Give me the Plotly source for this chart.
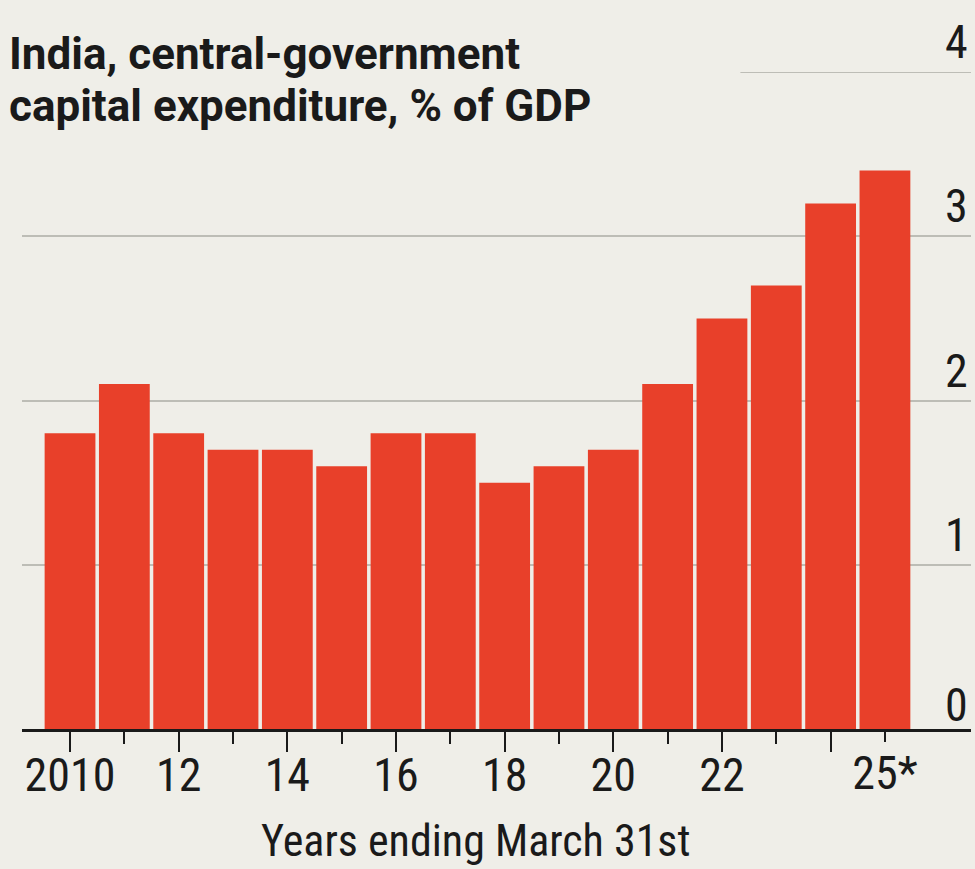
import plotly.graph_objects as go

# India, central-government capital expenditure, % of GDP (years ending March 31st)
years = list(range(2010, 2026))
capex_pct_gdp = [1.8, 2.1, 1.8, 1.7, 1.7, 1.6, 1.8, 1.8, 1.5, 1.6, 1.7, 2.1, 2.5, 2.7, 3.2, 3.4]

major_ticks = [2010, 2012, 2014, 2016, 2018, 2020, 2022, 2024]
major_text = ["2010", "12", "14", "16", "18", "20", "22", ""]
minor_ticks = [2011, 2013, 2015, 2017, 2019, 2021, 2023]
last_tick = [2025]
last_text = ["25*"]

y_labels = [0, 1, 2, 3, 4]
title_lines = ["India, central-government", "capital expenditure, % of GDP"]
x_title = "Years ending March 31st"

BG = "#efeee8"
RED = "#e8402a"
GRID = "#bdbdb6"
INK = "#1a1a1a"
NARROW = "Roboto Condensed, Liberation Sans Narrow, sans-serif"
BOLD = "Roboto, Liberation Sans, sans-serif"

fig = go.Figure()
fig.add_trace(go.Bar(x=years, y=capex_pct_gdp, marker=dict(color=RED, line=dict(width=0)),
                     hoverinfo="x+y"))
# invisible trace so the second x axis is drawn
fig.add_trace(go.Scatter(x=[2025], y=[0], xaxis="x2", mode="markers",
                         marker=dict(opacity=0), hoverinfo="skip", showlegend=False))

XR = [2009.116, 2026.584]

fig.update_layout(
    width=975, height=869,
    margin=dict(l=22, r=4, t=72, b=140),
    paper_bgcolor=BG, plot_bgcolor=BG,
    showlegend=False, bargap=0.065,
    xaxis=dict(range=XR, tickmode="array", tickvals=major_ticks, ticktext=major_text,
               ticks="outside", ticklen=20, tickwidth=2, tickcolor=INK,
               showline=True, linecolor=INK, linewidth=2.5, showgrid=False, zeroline=False,
               tickfont=dict(family=NARROW, size=46, color=INK), ticklabelstandoff=-16,
               minor=dict(tickmode="array", tickvals=minor_ticks, ticks="outside",
                          ticklen=12, tickwidth=2, tickcolor=INK, showgrid=False)),
    xaxis2=dict(range=XR, overlaying="x", anchor="y", side="bottom", tickmode="array",
                tickvals=last_tick, ticktext=last_text, ticks="outside", ticklen=12,
                tickwidth=2, tickcolor=INK, showline=False, showgrid=False, zeroline=False,
                tickfont=dict(family=NARROW, size=46, color=INK), ticklabelstandoff=-8),
    yaxis=dict(range=[0, 4], tickmode="array", tickvals=[1, 2, 3], showticklabels=False,
               showgrid=True, gridcolor=GRID, gridwidth=2, zeroline=False, ticks=""),
)

# short top gridline at 4, clear of the subtitle
fig.add_shape(type="line", xref="paper", yref="y", x0=0.757, x1=1, y0=4, y1=4,
              line=dict(color=GRID, width=2), layer="below")

for v in y_labels:
    fig.add_annotation(x=1, xref="paper", y=v, yref="y", text=str(v), showarrow=False,
                       xanchor="right", yanchor="middle", xshift=-1,
                       yshift=24 if v == 0 else 30,
                       font=dict(family=NARROW, size=46, color=INK))

fig.add_annotation(x=-0.0162, xref="paper", y=1.0274, yref="paper", text=title_lines[0],
                   showarrow=False, xanchor="left", yanchor="middle",
                   font=dict(family=BOLD, size=44, color=INK, weight=700))
fig.add_annotation(x=-0.0162, xref="paper", y=0.9483, yref="paper", text=title_lines[1],
                   showarrow=False, xanchor="left", yanchor="middle",
                   font=dict(family=BOLD, size=44, color=INK, weight=700))

fig.add_annotation(x=0.478, xref="paper", y=-0.1705, yref="paper", text=x_title,
                   showarrow=False, xanchor="center", yanchor="middle",
                   font=dict(family=NARROW, size=44, color=INK))

fig.write_html("out.html")
